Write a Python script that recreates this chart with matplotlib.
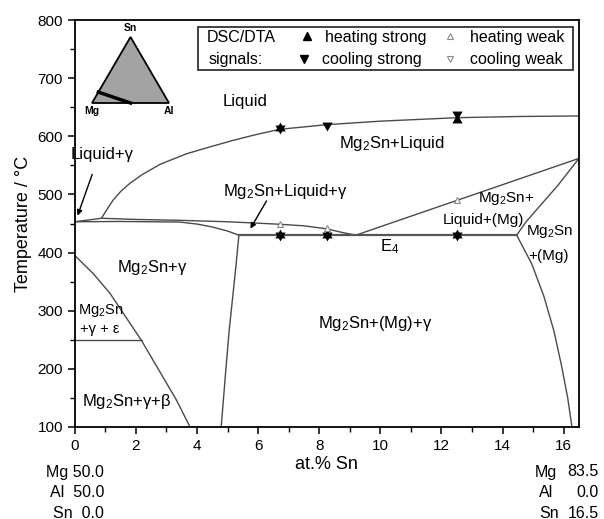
import numpy as np
import matplotlib
matplotlib.use("Agg")
import matplotlib.pyplot as plt
from matplotlib.patches import Rectangle, Polygon

plt.rcParams['font.family'] = ['Liberation Sans', 'DejaVu Sans']
plt.rcParams['mathtext.fontset'] = 'custom'
plt.rcParams['mathtext.rm'] = 'Liberation Sans'
plt.rcParams['mathtext.it'] = 'Liberation Sans'
plt.rcParams['mathtext.default'] = 'regular'

# ---------------- data ----------------
# liquidus of Mg2Sn
liq_x = [0.87, 1.05, 1.25, 1.5, 1.8, 2.2, 2.8, 3.66, 4.44, 5.18, 5.86, 6.7, 8.25, 10.0, 12.5, 14.5, 16.5]
liq_T = [459, 474, 490, 505, 519, 534, 552, 570, 582, 593, 602, 612, 620, 626, 632, 634, 635]
# small Liquid+gamma wedge
wedge_x = [0.0, 0.87]
wedge_T = [453, 459]
# upper boundary of Mg2Sn+L+gamma (to E4)
upper_x = [0.87, 2.0, 3.43, 5.0, 6.6, 7.5, 8.23, 8.8, 9.2]
upper_T = [459, 457, 455.5, 453, 449, 446, 441, 434, 430]
# lower boundary of Mg2Sn+L+gamma
lower_x = [0.0, 1.5, 3.43, 4.0, 4.5, 5.0, 5.37]
lower_T = [453, 453.5, 452.5, 449, 444, 437, 430]
# Mg2Sn+gamma / three-phase boundary going down
gam_x = [5.37, 5.28, 5.17, 5.05, 4.93, 4.79]
gam_T = [430, 380, 325, 265, 190, 100]
# eutectic E4 line
eut_x = [5.37, 14.46]
eut_T = [430, 430]
# E4 to right edge
e4r_x = [9.2, 16.5]
e4r_T = [430, 562]
# (Mg) liquidus-ish curve
mgl_x = [14.46, 14.77, 15.2, 15.8, 16.5]
mgl_T = [430, 453, 479, 515, 562]
# (Mg) solvus going down
mgs_x = [14.46, 14.95, 15.35, 15.68, 15.93, 16.13, 16.27]
mgs_T = [430, 381, 325, 265, 205, 150, 100]
# gamma/beta boundary at the left
gb_x = [0.0, 0.6, 1.15, 2.18, 3.33, 3.77]
gb_T = [395, 364, 330, 249, 146, 100]
# epsilon line
eps_x = [0.0, 2.2]
eps_T = [250, 250]

# DSC/DTA signals
heat_strong_x = [6.7, 12.5, 6.7, 8.25, 12.5]
heat_strong_T = [614, 628, 430, 430, 430]
cool_strong_x = [6.7, 8.25, 12.5, 6.7, 8.25, 12.5]
cool_strong_T = [614, 620, 638, 430, 430, 430]
heat_weak_x = [6.7, 8.25, 12.5]
heat_weak_T = [449, 442, 490]

x_ticks = [0, 2, 4, 6, 8, 10, 12, 14, 16]
y_ticks = [100, 200, 300, 400, 500, 600, 700, 800]

# centroid-centred triangle markers (so that up+down overlay gives a star)
TRI_UP = [(0, 1), (-0.866, -0.5), (0.866, -0.5), (0, 1)]
TRI_DN = [(0, -1), (-0.866, 0.5), (0.866, 0.5), (0, -1)]

# ---------------- figure ----------------
W, H = 604, 519
fig = plt.figure(figsize=(W / 100, H / 100), dpi=100)
ax = fig.add_axes([74.8 / W, 1 - 427 / H, (579 - 74.8) / W, (427 - 20) / H])

lc = '#4a4a4a'
lw = 1.0
for xs, ts in [(liq_x, liq_T), (wedge_x, wedge_T), (upper_x, upper_T), (lower_x, lower_T),
               (gam_x, gam_T), (e4r_x, e4r_T), (mgl_x, mgl_T), (mgs_x, mgs_T),
               (gb_x, gb_T), (eps_x, eps_T)]:
    ax.plot(xs, ts, color=lc, lw=lw, solid_capstyle='round', solid_joinstyle='round')
ax.plot(eut_x, eut_T, color='#555555', lw=1.6)

ms = 8.5
ax.plot(heat_strong_x, heat_strong_T, ls='none', marker=TRI_UP, color='black', ms=ms, mew=0, zorder=5)
ax.plot(cool_strong_x, cool_strong_T, ls='none', marker=TRI_DN, color='black', ms=ms, mew=0, zorder=5)
ax.plot(heat_weak_x, heat_weak_T, ls='none', marker='^', mfc='white', mec='#888888', ms=4.5, mew=0.8, zorder=5)

ax.set_xlim(0, 16.5)
ax.set_ylim(100, 800)
ax.set_xticks(x_ticks)
ax.set_yticks(y_ticks)
ax.set_xticks(np.arange(1, 17, 2), minor=True)
ax.set_yticks(np.arange(150, 800, 100), minor=True)
ax.tick_params(which='major', direction='out', length=5, width=1.1, labelsize=11, top=False, right=False)
ax.tick_params(which='minor', direction='out', length=3.5, width=1.0, top=False, right=False)
for s in ax.spines.values():
    s.set_linewidth(1.3)
ax.set_xlabel('at.% Sn', fontsize=13, labelpad=2)
ax.set_ylabel('Temperature / °C', fontsize=13, labelpad=4)

# region labels
fs = 12
ax.text(5.57, 659, 'Liquid', fontsize=fs, ha='center', va='center')
ax.text(10.37, 588, 'Mg$_2$Sn+Liquid', fontsize=fs, ha='center', va='center')
ax.text(0.9, 568, 'Liquid+γ', fontsize=fs, ha='center', va='center')
ax.text(6.9, 505, 'Mg$_2$Sn+Liquid+γ', fontsize=fs, ha='center', va='center')
ax.text(14.11, 493, 'Mg$_2$Sn+', fontsize=11, ha='center', va='center')
ax.text(13.36, 456, 'Liquid+(Mg)', fontsize=11, ha='center', va='center')
ax.text(15.55, 436, 'Mg$_2$Sn', fontsize=11, ha='center', va='center')
ax.text(15.5, 394, '+(Mg)', fontsize=11, ha='center', va='center')
ax.text(10.3, 410, 'E$_4$', fontsize=fs, ha='center', va='center')
ax.text(2.53, 375, 'Mg$_2$Sn+γ', fontsize=fs, ha='center', va='center')
ax.text(0.11, 300, 'Mg$_2$Sn', fontsize=10.5, ha='left', va='center')
ax.text(0.17, 268, '+γ + ε', fontsize=10.5, ha='left', va='center')
ax.text(9.83, 278, 'Mg$_2$Sn+(Mg)+γ', fontsize=fs, ha='center', va='center')
ax.text(0.22, 143, 'Mg$_2$Sn+γ+β', fontsize=fs, ha='left', va='center')

# arrows
ax.annotate('', xy=(0.06, 459), xytext=(0.6, 539),
            arrowprops=dict(arrowstyle='-|>', color='black', lw=1.0, mutation_scale=8))
ax.annotate('', xy=(5.70, 437), xytext=(6.32, 493),
            arrowprops=dict(arrowstyle='-|>', color='black', lw=1.0, mutation_scale=8))

# legend box (manual)
ax.add_patch(Rectangle((0.244, 0.877), 0.745, 0.106, transform=ax.transAxes,
                       fill=True, fc='white', ec='#333333', lw=1.3, zorder=6))
lfs = 11.5
ax.text(0.33, 0.958, 'DSC/DTA', transform=ax.transAxes, fontsize=lfs, ha='center', va='center', zorder=7)
ax.text(0.32, 0.903, 'signals:', transform=ax.transAxes, fontsize=lfs, ha='center', va='center', zorder=7)
ax.plot([0.461], [0.960], transform=ax.transAxes, marker='^', color='black', ms=6, ls='none', zorder=7, clip_on=False)
ax.text(0.497, 0.958, 'heating strong', transform=ax.transAxes, fontsize=lfs, ha='left', va='center', zorder=7)
ax.plot([0.455], [0.905], transform=ax.transAxes, marker='v', color='black', ms=6, ls='none', zorder=7, clip_on=False)
ax.text(0.491, 0.903, 'cooling strong', transform=ax.transAxes, fontsize=lfs, ha='left', va='center', zorder=7)
ax.plot([0.745], [0.960], transform=ax.transAxes, marker='^', mfc='white', mec='#888888', ms=4.5, mew=0.8, ls='none', zorder=7, clip_on=False)
ax.text(0.783, 0.958, 'heating weak', transform=ax.transAxes, fontsize=lfs, ha='left', va='center', zorder=7)
ax.plot([0.745], [0.905], transform=ax.transAxes, marker='v', mfc='white', mec='#888888', ms=4.5, mew=0.8, ls='none', zorder=7, clip_on=False)
ax.text(0.783, 0.903, 'cooling weak', transform=ax.transAxes, fontsize=lfs, ha='left', va='center', zorder=7)

# ternary inset
tern = fig.add_axes([92 / W, 1 - 103 / H, 77 / W, 66 / H])
tern.set_xlim(0, 1)
tern.set_ylim(0, np.sqrt(3) / 2)
tern.axis('off')
tern.add_patch(Polygon([[0, 0], [1, 0], [0.5, np.sqrt(3) / 2]], closed=True,
                       fc='#a3a3a3', ec='black', lw=1.3, clip_on=False))
sec_start = (0.50, 0.50, 0.0)   # Mg, Al, Sn
sec_end = (0.835, 0.0, 0.165)
def tern_xy(c):
    return c[1] + c[2] / 2, c[2] * np.sqrt(3) / 2
p0 = tern_xy(sec_start)
p1 = tern_xy(sec_end)
tern.plot([p0[0], p1[0]], [p0[1], p1[1]], color='black', lw=2.5, clip_on=False)
tern.text(0.5, 0.92, 'Sn', fontsize=7.5, fontweight='bold', ha='center', va='bottom')
tern.text(0.0, -0.04, 'Mg', fontsize=7.5, fontweight='bold', ha='center', va='top')
tern.text(1.0, -0.04, 'Al', fontsize=7.5, fontweight='bold', ha='center', va='top')

# composition end labels
bfs = 11.5
for i, (el, v) in enumerate([('Mg', '50.0'), ('Al', '50.0'), ('Sn', '0.0')]):
    y = 1 - (472 + 20.5 * i) / H
    fig.text(104 / W, y, f'{el} {v}' if el == 'Mg' else f'{el}  {v}', fontsize=bfs, ha='right', va='center')
for i, (el, v) in enumerate([('Mg', '83.5'), ('Al', '0.0'), ('Sn', '16.5')]):
    y = 1 - (472 + 20.5 * i) / H
    fig.text(535 / W if el == 'Mg' else 539 / W, y, el, fontsize=bfs, ha='left', va='center')
    fig.text(599 / W, y, v, fontsize=bfs, ha='right', va='center')

fig.savefig('out.png', dpi=100)
